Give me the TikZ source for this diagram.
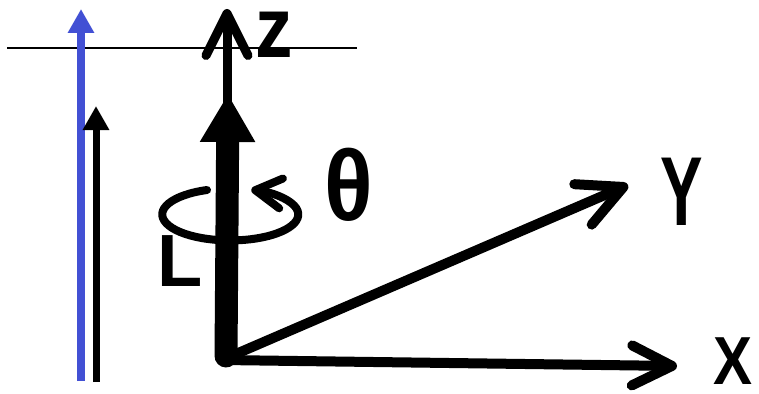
\documentclass[tikz,border=0pt]{standalone}
\usepackage{fontspec}
\setmainfont{Liberation Sans}
\usepackage{xcolor}
\usetikzlibrary{arrows.meta}
\definecolor{spinblue}{RGB}{66,80,212}

\begin{document}
\begin{tikzpicture}[
    x=1pt, y=-1pt,
    axis/.style={line width=10pt, line cap=round, line join=round},
    barb/.style={-{Straight Barb[length=#1, width=#1, round]}},
    spin/.style={line width=8pt, -{Triangle[length=24pt, width=25pt]}},
    axislabel/.style={inner sep=0pt, font=\bfseries\fontsize{#1}{#1}\selectfont},
    axislabel/.default=96pt
]
    \useasboundingbox[fill=white] (0,0) rectangle (759,393);

    % Points
    \coordinate (O) at (222,360);
    \coordinate (Xtip) at (677,366);
    \coordinate (Ytip) at (628,185);
    \coordinate (Zbot) at (227,356);
    \coordinate (Ztip) at (227,9);
    \coordinate (Lbot) at (226,356);
    \coordinate (Ltip) at (228,94);
    \coordinate (refL) at (7,48);
    \coordinate (refR) at (357,48);
    \coordinate (blueBot) at (81,381);
    \coordinate (blueTip) at (81,9);
    \coordinate (blackBot) at (96,382);
    \coordinate (blackTip) at (96,106);
    \coordinate (rotStart) at (207,190);

    % Reference level
    \draw[line width=1.3pt] (refL) -- (refR);

    % Spins on the left
    \draw[spin, spinblue] (blueBot) -- (blueTip);
    \draw[spin, line width=7pt] (blackBot) -- (blackTip);

    % Rotation about z
    \draw[line width=8pt, line cap=round, -{Straight Barb[length=26pt, width=30pt, round]}]
        (rotStart) arc[start angle=250, end angle=-72, x radius=68, y radius=26];

    % Axes
    \draw[axis, barb=40pt] (O) -- (Xtip);
    \draw[axis, barb=44pt] (O) -- (Ytip);
    \draw[axis, line width=9pt, barb=42pt] (Zbot) -- (Ztip);

    % Angular momentum L
    \draw[line width=23pt, line cap=round, -{Triangle[length=48pt, width=52pt]}] (Lbot) -- (Ltip);

    % Labels
    \node[axislabel=86pt] (zlab) at (274,35) {\scalebox{0.87}[1]{z}};
    \node[axislabel=98pt] (ylab) at (682,192) {\scalebox{0.65}[1]{Y}};
    \node[axislabel=68pt] (xlab) at (733,361) {\scalebox{0.86}[1]{X}};
    \node[axislabel=74pt] (llab) at (180,261) {L};
    \node[axislabel=100pt] (thlab) at (349,185) {\scalebox{0.9}[1]{θ}};
\end{tikzpicture}
\end{document}
